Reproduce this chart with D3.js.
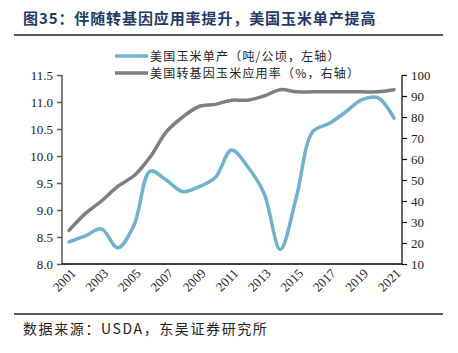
<!DOCTYPE html>
<html>
<head>
<meta charset="utf-8">
<script src="https://cdn.jsdelivr.net/npm/d3@7"></script>
<style>
  body { margin: 0; background: #fff; }
  svg { display: block; }
</style>
</head>
<body>
<div id="chart"></div>
<script>
// ============ 数据 ============
const years = [2001, 2002, 2003, 2004, 2005, 2006, 2007, 2008, 2009, 2010, 2011,
  2012, 2013, 2014, 2015, 2016, 2017, 2018, 2019, 2020, 2021];
// 美国玉米单产（吨/公顷，左轴）
const yieldValues = [8.41, 8.52, 8.65, 8.30, 8.72, 9.72, 9.55, 9.34, 9.43, 9.60, 10.11,
  9.80, 9.31, 8.27, 9.25, 10.45, 10.60, 10.81, 11.04, 11.08, 10.70];
// 美国转基因玉米应用率（%，右轴）
const adoptionValues = [26, 34, 40, 47, 52, 61, 73, 80, 85, 86, 88,
  88, 90, 93, 92, 92, 92, 92, 92, 92, 93];
const leftTicks = [8.0, 8.5, 9.0, 9.5, 10.0, 10.5, 11.0, 11.5];
const rightTicks = [10, 20, 30, 40, 50, 60, 70, 80, 90, 100];
const xTickYears = [2001, 2003, 2005, 2007, 2009, 2011, 2013, 2015, 2017, 2019, 2021];
const legendLabels = ['美国玉米单产（吨/公顷，左轴）', '美国转基因玉米应用率（%，右轴）'];

// ============ 画布 ============
const width = 458;
const height = 353;
const plot = { left: 62, right: 402, top: 75, bottom: 264 };
const blue = '#6FB1CE';
const gray = '#7F7F7F';
const numFont = '"Liberation Serif", "Times New Roman", serif';
const cjkFont = '"Noto Sans CJK SC", sans-serif';

const svg = d3.select('#chart').append('svg')
  .attr('width', width)
  .attr('height', height);

// 标题
svg.append('text')
  .attr('x', 23).attr('y', 24)
  .attr('fill', '#1F3A68')
  .attr('font-family', cjkFont)
  .attr('font-weight', 'bold')
  .attr('font-size', 15)
  .attr('letter-spacing', 0.9)
  .text('图35：伴随转基因应用率提升，美国玉米单产提高');

svg.append('line')
  .attr('x1', 14).attr('x2', 443).attr('y1', 35).attr('y2', 35)
  .attr('stroke', '#222').attr('stroke-width', 1.5);

svg.append('line')
  .attr('x1', 14).attr('x2', 443).attr('y1', 314).attr('y2', 314)
  .attr('stroke', '#222').attr('stroke-width', 1.5);

svg.append('text')
  .attr('x', 23).attr('y', 334)
  .attr('fill', '#222')
  .attr('font-family', cjkFont)
  .attr('font-size', 14)
  .attr('letter-spacing', 1.6)
  .text('数据来源：USDA，东吴证券研究所');

// ============ 比例尺 ============
const x = d3.scaleLinear()
  .domain([2001, 2021])
  .range([69, 394]);

const yLeft = d3.scaleLinear()
  .domain([8.0, 11.5])
  .range([plot.bottom, plot.top]);

const yRight = d3.scaleLinear()
  .domain([10, 100])
  .range([plot.bottom, plot.top]);

// ============ 坐标轴 ============
const leftAxis = svg.append('g')
  .attr('transform', `translate(${plot.left},0)`)
  .call(d3.axisLeft(yLeft).tickValues(leftTicks).tickFormat(d3.format('.1f')).tickSize(5).tickPadding(4));
leftAxis.selectAll('path, line').attr('stroke', '#595959').attr('stroke-width', 1.5);
leftAxis.select('.domain').attr('d', `M0,${plot.top}V${plot.bottom}`);

const rightAxis = svg.append('g')
  .attr('transform', `translate(${plot.right},0)`)
  .call(d3.axisRight(yRight).tickValues(rightTicks).tickSize(5).tickPadding(4));
rightAxis.selectAll('path, line').attr('stroke', '#000').attr('stroke-width', 1.2);
rightAxis.select('.domain').attr('d', `M0,${plot.top}V${plot.bottom}`);

const bottomAxis = svg.append('g')
  .attr('transform', `translate(0,${plot.bottom})`)
  .call(d3.axisBottom(x).tickValues(xTickYears).tickFormat(d3.format('d')).tickSize(0));
bottomAxis.select('.domain')
  .attr('d', `M${plot.left},0H${plot.right}`)
  .attr('stroke', '#000').attr('stroke-width', 1.5);
bottomAxis.selectAll('text')
  .attr('text-anchor', 'end')
  .attr('dx', 0).attr('dy', 0)
  .attr('transform', 'translate(5,8) rotate(-45)');

svg.selectAll('.tick text')
  .attr('font-family', numFont)
  .attr('font-size', 13)
  .attr('fill', '#222');

// ============ 折线 ============
const lineLeft = d3.line()
  .x((d, i) => x(years[i]))
  .y(d => yLeft(d))
  .curve(d3.curveCatmullRom.alpha(0.5));

const lineRight = d3.line()
  .x((d, i) => x(years[i]))
  .y(d => yRight(d))
  .curve(d3.curveCatmullRom.alpha(0.5));

svg.append('path')
  .datum(adoptionValues)
  .attr('d', lineRight)
  .attr('fill', 'none')
  .attr('stroke', gray)
  .attr('stroke-width', 3.5)
  .attr('stroke-linecap', 'round');

svg.append('path')
  .datum(yieldValues)
  .attr('d', lineLeft)
  .attr('fill', 'none')
  .attr('stroke', blue)
  .attr('stroke-width', 3.5)
  .attr('stroke-linecap', 'round');

// ============ 图例 ============
const legend = svg.append('g');
[blue, gray].forEach((c, i) => {
  const ly = 56 + i * 17;
  legend.append('line')
    .attr('x1', 115).attr('x2', 148).attr('y1', ly).attr('y2', ly)
    .attr('stroke', c).attr('stroke-width', 3.5);
  legend.append('text')
    .attr('x', 150).attr('y', ly + 4.5)
    .attr('font-family', cjkFont)
    .attr('font-size', 12)
    .attr('letter-spacing', 1.2)
    .attr('fill', '#222')
    .text(legendLabels[i]);
});
</script>
</body>
</html>
